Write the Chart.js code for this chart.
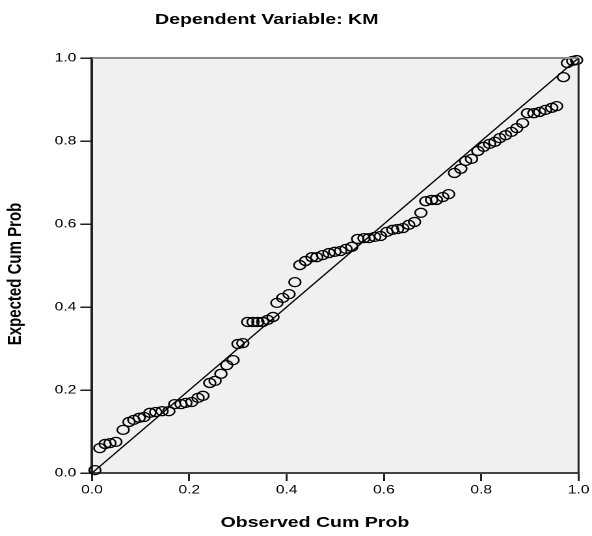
<!DOCTYPE html>
<html>
<head>
<meta charset="utf-8">
<script src="https://cdn.jsdelivr.net/npm/chart.js@4.4.1/dist/chart.umd.min.js"></script>
<style>
  html, body { margin: 0; padding: 0; background: #fff; }
  /* the reference picture is stretched sideways, so stretch the canvas the same way */
  #wrap { width: 455px; height: 536px; transform: scaleX(1.3011); transform-origin: 0 0; }
</style>
</head>
<body>
<div id="wrap"><canvas id="ppChart" width="455" height="536"></canvas></div>
<script>
// Observed vs expected cumulative probabilities
const observedCumProb = [
  0.006, 0.016, 0.027, 0.037, 0.049, 0.064, 0.076, 0.086, 0.097, 0.107,
  0.119, 0.131, 0.144, 0.158, 0.170, 0.183, 0.193, 0.205, 0.218, 0.228,
  0.242, 0.253, 0.265, 0.277, 0.290, 0.300, 0.310, 0.320, 0.331, 0.341,
  0.351, 0.361, 0.372, 0.380, 0.392, 0.405, 0.417, 0.427, 0.439, 0.452,
  0.462, 0.474, 0.487, 0.499, 0.511, 0.522, 0.534, 0.546, 0.559, 0.569,
  0.581, 0.593, 0.606, 0.618, 0.628, 0.639, 0.651, 0.663, 0.676, 0.686,
  0.698, 0.708, 0.721, 0.733, 0.745, 0.758, 0.768, 0.780, 0.793, 0.805,
  0.817, 0.828, 0.838, 0.850, 0.862, 0.873, 0.885, 0.895, 0.908, 0.920,
  0.932, 0.945, 0.955, 0.969, 0.977, 0.988, 0.996
];
const expectedCumProb = [
  0.007, 0.060, 0.070, 0.072, 0.075, 0.104, 0.123, 0.128, 0.133, 0.135,
  0.145, 0.147, 0.149, 0.149, 0.166, 0.166, 0.169, 0.171, 0.181, 0.186,
  0.217, 0.222, 0.239, 0.260, 0.272, 0.311, 0.313, 0.364, 0.364, 0.364,
  0.364, 0.369, 0.376, 0.410, 0.422, 0.431, 0.460, 0.501, 0.511, 0.520,
  0.520, 0.525, 0.530, 0.533, 0.535, 0.540, 0.545, 0.564, 0.566, 0.566,
  0.569, 0.571, 0.581, 0.586, 0.588, 0.590, 0.598, 0.605, 0.627, 0.655,
  0.658, 0.658, 0.665, 0.672, 0.723, 0.733, 0.752, 0.757, 0.776, 0.786,
  0.793, 0.798, 0.807, 0.814, 0.822, 0.831, 0.843, 0.867, 0.867, 0.870,
  0.875, 0.880, 0.884, 0.954, 0.988, 0.993, 0.995
];
// Reference line ends
const diagonalX = [0, 1];
const diagonalY = [0, 1];

const chartTitle = 'Dependent Variable: KM';
const xTitle = 'Observed Cum Prob';
const yTitle = 'Expected Cum Prob';

Chart.defaults.font.family = '"Liberation Sans", Arial, sans-serif';
Chart.defaults.color = '#000';

// Grey plot background, top/right frame lines and the three titles
const frameAndTitles = {
    id: 'frameAndTitles',
    beforeDraw(chart) {
        const { ctx, chartArea: a } = chart;
        ctx.save();
        ctx.fillStyle = '#f0f0f0';
        ctx.fillRect(a.left, a.top, a.right - a.left, a.bottom - a.top);
        ctx.restore();
    },
    afterDraw(chart) {
        const { ctx, chartArea: a } = chart;
        ctx.save();
        ctx.lineWidth = 2;
        ctx.strokeStyle = '#8c8c8c';
        ctx.beginPath();
        ctx.moveTo(a.left, a.top);
        ctx.lineTo(a.right, a.top);
        ctx.stroke();
        ctx.lineWidth = 1.5;
        ctx.strokeStyle = '#222';
        ctx.beginPath();
        ctx.moveTo(a.right, a.top);
        ctx.lineTo(a.right, a.bottom);
        ctx.stroke();

        ctx.fillStyle = '#000';
        ctx.font = 'bold 15px "Liberation Sans", Arial, sans-serif';
        ctx.textAlign = 'center';
        ctx.textBaseline = 'middle';
        ctx.fillText(chartTitle, 205, 20);
        ctx.fillText(xTitle, 242, 523);

        ctx.translate(12, 274);
        ctx.rotate(-Math.PI / 2);
        ctx.fillText(yTitle, 0, 0);
        ctx.restore();
    }
};

const points = observedCumProb.map((x, i) => ({ x: x, y: expectedCumProb[i] }));
const diagonal = diagonalX.map((x, i) => ({ x: x, y: diagonalY[i] }));

const ppChart = new Chart(document.getElementById('ppChart'), {
    type: 'scatter',
    data: {
        datasets: [{
            label: 'Observed',
            data: points,
            pointRadius: 4.5,
            pointHoverRadius: 4.5,
            pointBorderWidth: 1.3,
            pointBorderColor: '#000',
            pointBackgroundColor: 'rgba(0,0,0,0)',
            clip: false
        }, {
            label: 'Expected',
            data: diagonal,
            showLine: true,
            pointRadius: 0,
            borderColor: '#000',
            borderWidth: 1.2
        }]
    },
    options: {
        responsive: false,
        animation: false,
        devicePixelRatio: 2,
        layout: { padding: { left: 0, top: 58, right: 10, bottom: 0 } },
        plugins: { legend: { display: false }, tooltip: { enabled: false } },
        scales: {
            x: {
                type: 'linear',
                min: 0,
                max: 1,
                afterFit: scale => { scale.height = 63; },
                border: { display: true, color: '#444', width: 2 },
                grid: { drawOnChartArea: false, drawTicks: true, tickLength: 8, color: '#222', lineWidth: 1.5 },
                ticks: { stepSize: 0.2, padding: 2, font: { size: 12 }, callback: v => v.toFixed(1) }
            },
            y: {
                type: 'linear',
                min: 0,
                max: 1,
                afterFit: scale => { scale.width = 70.7; },
                border: { display: true, color: '#222', width: 2 },
                grid: { drawOnChartArea: false, drawTicks: true, tickLength: 9, color: '#222', lineWidth: 1.5 },
                ticks: { stepSize: 0.2, padding: 3, font: { size: 12 }, callback: v => v.toFixed(1) }
            }
        }
    },
    plugins: [frameAndTitles]
});
</script>
</body>
</html>
